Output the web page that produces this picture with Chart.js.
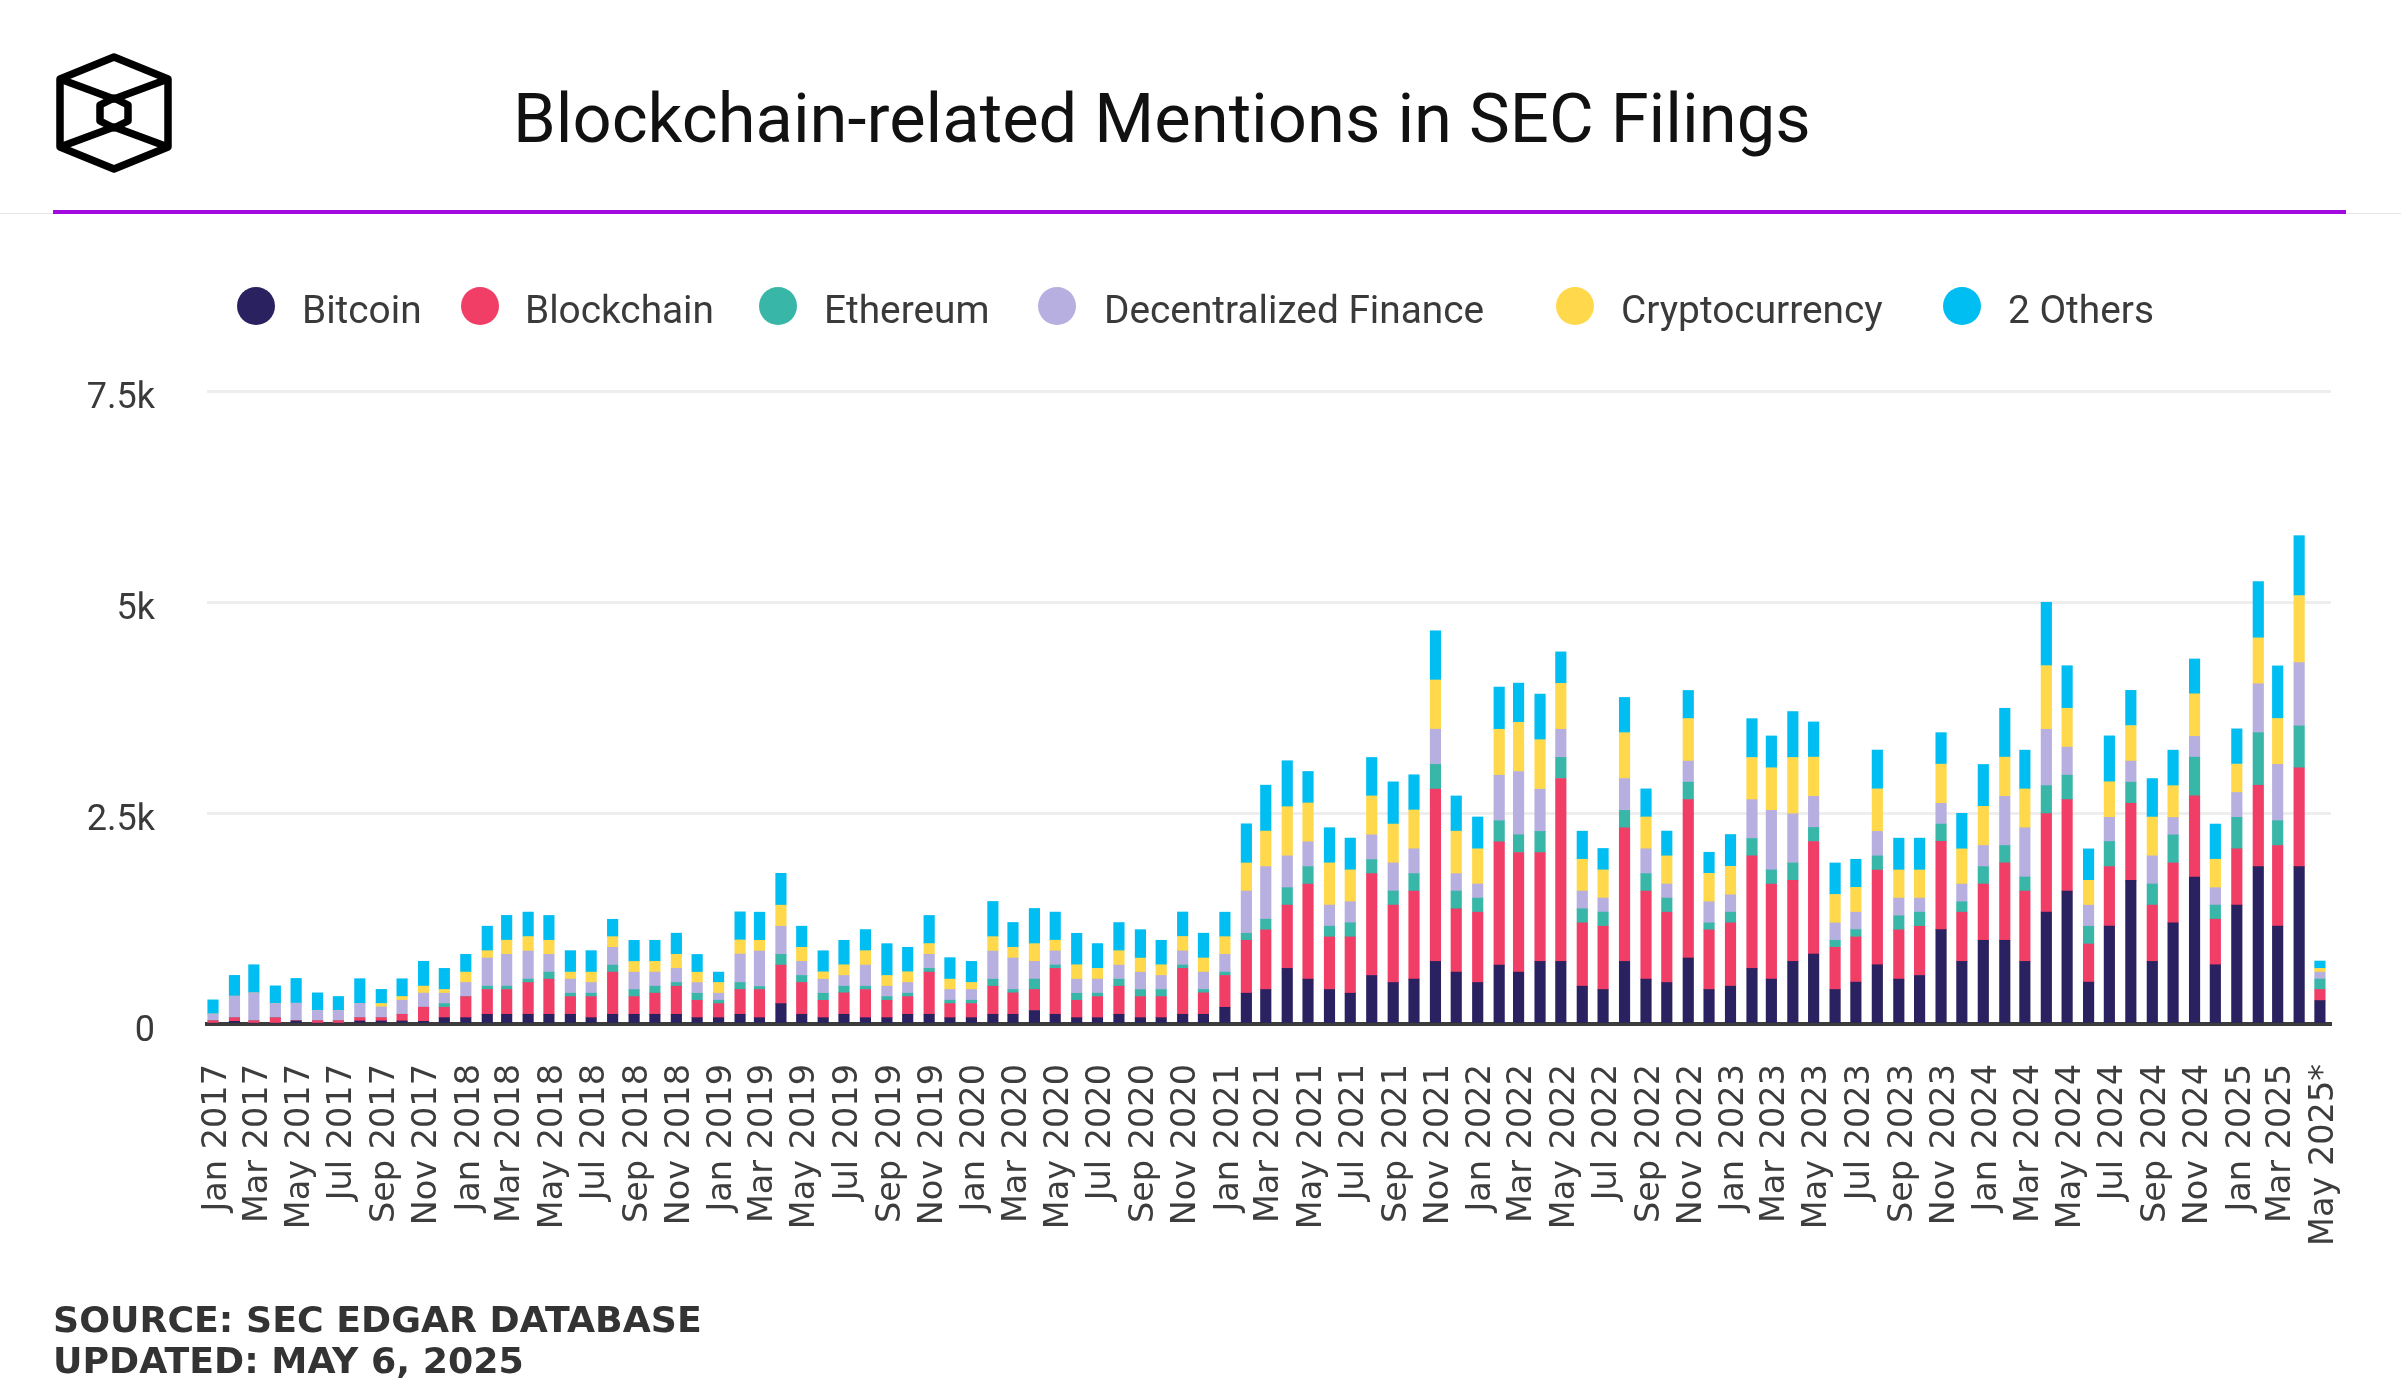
<!DOCTYPE html>
<html><head><meta charset="utf-8">
<script src="https://cdn.jsdelivr.net/npm/chart.js@4/dist/chart.umd.js"></script>
<style>
html,body{margin:0;padding:0;background:#fff;width:2401px;height:1400px;overflow:hidden}
#c{position:absolute;left:0;top:0}
.t{position:absolute;white-space:nowrap;color:#3a3a3a}
#title{left:513px;top:73.5px;font:400 68.7px/90px Roboto,sans-serif;color:#111}
.lg{font:400 38.8px/44px Roboto,sans-serif;top:288px}
.dot{position:absolute;width:38px;height:38px;border-radius:50%;top:287px}
#rule0{position:absolute;left:0;top:213px;width:2401px;height:1px;background:#e6e6e6}
#rule1{position:absolute;left:53px;top:210px;width:2293px;height:4px;background:#a30ae0}
.ft{left:53px;font:700 36.3px/41px "DejaVu Sans",sans-serif;color:#333}
#logo{position:absolute;left:0;top:0}
</style></head><body>
<canvas id="c" width="2401" height="1400"></canvas>
<svg id="logo" width="220" height="200" fill="none" stroke="#000" stroke-width="7.5" stroke-linejoin="round">
<path d="M114 57L168 79V147L114 169L60 147V79Z"/>
<path d="M60 79L114 99L168 79M60 147L114 127L168 147"/>
<path d="M114 98L128 105V121L114 128L100 121V105Z"/>
</svg>
<div id="rule0"></div><div id="rule1"></div>
<div class="t" id="title">Blockchain-related Mentions in SEC Filings</div>
<div id="legend"></div>
<div class="t ft" style="top:1299px">SOURCE: SEC EDGAR DATABASE</div>
<div class="t ft" style="top:1340px">UPDATED: MAY 6, 2025</div>
<script>
const categories = [
"Jan 2017","Feb 2017","Mar 2017","Apr 2017","May 2017","Jun 2017","Jul 2017","Aug 2017","Sep 2017","Oct 2017","Nov 2017","Dec 2017",
"Jan 2018","Feb 2018","Mar 2018","Apr 2018","May 2018","Jun 2018","Jul 2018","Aug 2018","Sep 2018","Oct 2018","Nov 2018","Dec 2018",
"Jan 2019","Feb 2019","Mar 2019","Apr 2019","May 2019","Jun 2019","Jul 2019","Aug 2019","Sep 2019","Oct 2019","Nov 2019","Dec 2019",
"Jan 2020","Feb 2020","Mar 2020","Apr 2020","May 2020","Jun 2020","Jul 2020","Aug 2020","Sep 2020","Oct 2020","Nov 2020","Dec 2020",
"Jan 2021","Feb 2021","Mar 2021","Apr 2021","May 2021","Jun 2021","Jul 2021","Aug 2021","Sep 2021","Oct 2021","Nov 2021","Dec 2021",
"Jan 2022","Feb 2022","Mar 2022","Apr 2022","May 2022","Jun 2022","Jul 2022","Aug 2022","Sep 2022","Oct 2022","Nov 2022","Dec 2022",
"Jan 2023","Feb 2023","Mar 2023","Apr 2023","May 2023","Jun 2023","Jul 2023","Aug 2023","Sep 2023","Oct 2023","Nov 2023","Dec 2023",
"Jan 2024","Feb 2024","Mar 2024","Apr 2024","May 2024","Jun 2024","Jul 2024","Aug 2024","Sep 2024","Oct 2024","Nov 2024","Dec 2024",
"Jan 2025","Feb 2025","Mar 2025","Apr 2025","May 2025*"];
const bitcoin = [0,32,0,0,36,0,0,36,36,36,
32,75,75,115,115,115,115,115,75,115,
115,115,115,75,75,115,75,242,115,75,
115,75,75,115,115,75,75,115,115,159,
115,75,75,115,75,75,115,115,198,365,
409,659,532,409,365,575,492,532,742,615,
492,698,615,742,742,448,409,742,532,492,
782,409,448,659,532,742,829,409,496,702,
532,575,1119,742,992,992,742,1325,1575,496,
1159,1702,742,1198,1742,702,1409,1865,1159,1865,278];
const blockchain = [40,44,40,75,4,40,40,40,40,79,
167,123,250,294,294,377,417,210,250,500,
210,250,333,206,167,294,333,456,377,206,
254,333,206,210,500,167,167,333,254,250,
544,206,250,333,250,250,544,254,377,627,
706,750,1127,623,667,1206,917,1044,2040,750,
833,1460,1417,1290,2167,750,750,1583,1044,833,
1877,706,750,1333,1127,960,1333,500,536,1123,
583,583,1044,583,667,917,833,1167,1083,452,
706,913,667,710,960,540,667,964,956,1171,131];
const ethereum = [0,0,0,0,0,0,0,0,0,0,
0,44,0,40,40,40,83,40,40,83,
83,83,44,83,40,83,36,127,83,83,
79,40,44,40,44,40,40,83,40,123,
40,83,40,83,83,83,40,40,40,83,
127,206,206,127,167,167,167,206,294,210,
167,250,210,250,250,167,167,206,206,167,
206,83,127,206,167,206,167,83,87,167,
167,167,206,123,206,206,167,333,290,210,
298,250,250,333,460,167,373,623,294,496,123];
const defi = [79,254,329,167,206,119,119,167,127,167,
167,123,167,333,377,333,210,167,127,210,
206,167,167,127,83,337,421,333,167,167,
127,250,123,127,167,127,127,333,373,210,
167,167,167,167,206,167,167,206,210,500,
623,377,294,250,250,294,333,294,417,206,
167,540,750,500,333,210,167,377,294,167,
250,250,206,460,706,583,369,206,206,290,
210,167,246,210,250,583,583,667,333,250,
286,250,333,206,246,206,294,579,667,750,83];
const cryptocurrency = [0,0,0,0,0,0,0,0,40,44,
83,44,123,87,167,171,167,83,123,127,
127,127,167,123,127,167,127,250,167,87,
127,171,127,127,127,123,83,171,127,210,
127,171,127,171,167,127,171,167,210,333,
421,583,460,500,377,460,460,460,583,504,
417,544,583,587,544,377,333,544,377,333,
504,337,337,500,504,667,464,337,294,504,
333,333,464,417,464,464,460,754,460,294,
421,421,460,377,504,337,337,544,544,794,44];
const others = [167,246,333,210,294,210,167,294,167,210,
294,250,210,290,294,290,294,254,254,206,
250,250,250,210,123,333,333,377,250,250,
290,250,377,290,333,254,250,417,294,417,
333,373,294,333,337,290,290,294,290,464,
544,544,373,417,377,456,500,417,583,417,
377,500,464,540,373,333,254,417,333,294,
333,250,377,460,377,544,417,373,333,460,
377,377,373,421,496,579,460,750,504,373,
544,417,456,421,413,417,417,667,623,710,87];
const yTicks = [0,2500,5000,7500];
const yTickLabels = ["0","2.5k","5k","7.5k"];
const seriesNames = ["Bitcoin","Blockchain","Ethereum","Decentralized Finance","Cryptocurrency","2 Others"];
const seriesColors = ["#2a2260","#f03e66","#38b7a9","#b6afe0","#ffd94b","#00bdf2"];
const seriesValues = [bitcoin,blockchain,ethereum,defi,cryptocurrency,others];
const legendDotX = [237,461,759,1038,1556,1943];
const legendTextX = [302,525,824,1104,1621,2008];

const dayOf = s => { const [m,y] = s.replace("*","").split(" ");
  return (Date.UTC(+y,"JanFebMarAprMayJunJulAugSepOctNovDec".indexOf(m)/3,1)-Date.UTC(2017,0,1))/864e5; };
const days = categories.map(dayOf);
const tickIdx = categories.map((_,i)=>i).filter(i=>i%2===0);

const lg = document.getElementById("legend");
seriesNames.forEach((n,i)=>{
  const d=document.createElement("div");d.className="dot";d.style.left=legendDotX[i]+"px";d.style.background=seriesColors[i];lg.appendChild(d);
  const t=document.createElement("div");t.className="t lg";t.style.left=legendTextX[i]+"px";t.textContent=n;lg.appendChild(t);
});

new Chart(document.getElementById("c"),{
  type:"bar",
  data:{datasets:seriesNames.map((n,i)=>({
    label:n,backgroundColor:seriesColors[i],borderWidth:0,barThickness:10.5,
    data:seriesValues[i].map((v,k)=>({x:days[k],y:v}))
  }))},
  options:{
    responsive:false,animation:false,devicePixelRatio:1,
    layout:{padding:{top:391,right:70,left:0,bottom:0}},
    plugins:{legend:{display:false},title:{display:false},tooltip:{enabled:false}},
    scales:{
      x:{type:"linear",stacked:true,offset:false,min:-8.66,max:3058,
        grid:{display:false,drawTicks:false},
        border:{display:true,color:"#3c3c3c",width:4},
        afterBuildTicks:s=>{s.ticks=tickIdx.map(i=>({value:days[i]}));},
        afterFit:s=>{s.height=376;},
        ticks:{autoSkip:false,minRotation:90,maxRotation:90,padding:40,labelOffset:4,color:"#3d3d3d",
          font:{family:"'DejaVu Sans'",size:33.5},
          callback:(v,i)=>categories[tickIdx[i]]}
      },
      y:{stacked:true,min:0,max:7500,
        grid:{color:"#eeeeee",lineWidth:3,drawTicks:false},
        border:{display:false},
        afterBuildTicks:s=>{s.ticks=yTicks.map(v=>({value:v}));},
        afterFit:s=>{s.width=207;},
        ticks:{padding:52,labelOffset:8,color:"#3a3a3a",font:{family:"Roboto",size:36},
          callback:(v,i)=>yTickLabels[i]}
      }
    }
  }
});
</script>
</body></html>
